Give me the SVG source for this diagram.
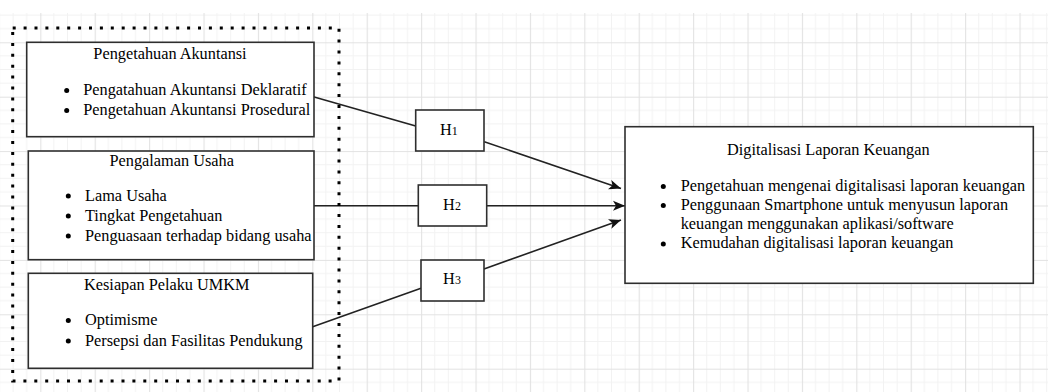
<svg xmlns="http://www.w3.org/2000/svg" width="1048" height="392" viewBox="0 0 1048 392">
  <defs>
    <pattern id="grid" patternUnits="userSpaceOnUse" x="40.3" y="42.3" width="54.4" height="54.4">
      <g stroke="#f2f2f2" stroke-width="1" fill="none">
        <line x1="13.6" y1="0" x2="13.6" y2="54.4"/>
        <line x1="27.2" y1="0" x2="27.2" y2="54.4"/>
        <line x1="40.8" y1="0" x2="40.8" y2="54.4"/>
        <line x1="0" y1="13.6" x2="54.4" y2="13.6"/>
        <line x1="0" y1="27.2" x2="54.4" y2="27.2"/>
        <line x1="0" y1="40.8" x2="54.4" y2="40.8"/>
      </g>
      <g stroke="#e2e2e2" stroke-width="1.2" fill="none">
        <line x1="0.5" y1="0" x2="0.5" y2="54.4"/>
        <line x1="0" y1="0.5" x2="54.4" y2="0.5"/>
      </g>
    </pattern>
    <marker id="arrow" markerUnits="userSpaceOnUse" markerWidth="14" markerHeight="12" refX="13" refY="6" orient="auto">
      <path d="M1,1 L13,6 L1,11 L4,6 Z" fill="#111"/>
    </marker>
  </defs>
  <style>
    .box { fill: #ffffff; stroke: #2e2e2e; stroke-width: 1.6; }
    .t { font-family: "Liberation Serif", "Times New Roman", serif; font-size: 16.3px; fill: #000; }
    .c { text-anchor: middle; }
    .dot { fill: #000; }
    .edge { stroke: #222; stroke-width: 1.6; fill: none; }
  </style>
  <rect x="0" y="0" width="1048" height="392" fill="#ffffff"/>
  <rect x="0" y="13" width="1048" height="379" fill="url(#grid)"/>

  <g id="connectors">
    <line class="edge" x1="313.3" y1="96.7" x2="415.7" y2="126"/>
    <line class="edge" x1="484.3" y1="141.7" x2="621" y2="188.5" marker-end="url(#arrow)"/>
    <line class="edge" x1="314" y1="205.7" x2="418.3" y2="205.7"/>
    <line class="edge" x1="486.7" y1="205.7" x2="625" y2="205.7" marker-end="url(#arrow)"/>
    <line class="edge" x1="312.7" y1="326.7" x2="421" y2="288.3"/>
    <line class="edge" x1="484" y1="269" x2="621" y2="220" marker-end="url(#arrow)"/>
  </g>

  <g id="group-border">
    <rect x="12.7" y="28" width="326.3" height="353" fill="none" stroke="#000" stroke-width="3" stroke-dasharray="3 7.9"/>
  </g>

  <g id="pengetahuan-akuntansi">
    <rect class="box" x="26.7" y="42.3" width="287.3" height="94.4"/>
    <text class="t c" x="170" y="59">Pengetahuan Akuntansi</text>
    <circle class="dot" cx="66.7" cy="90.5" r="2.5"/>
    <circle class="dot" cx="66.7" cy="110.5" r="2.5"/>
    <text class="t" x="83.3" y="95">Pengatahuan Akuntansi Deklaratif</text>
    <text class="t" x="83.3" y="115">Pengetahuan Akuntansi Prosedural</text>
  </g>

  <g id="pengalaman-usaha">
    <rect class="box" x="28.3" y="151" width="285.7" height="108.7"/>
    <text class="t c" x="171.7" y="166">Pengalaman Usaha</text>
    <circle class="dot" cx="68.3" cy="196" r="2.5"/>
    <circle class="dot" cx="68.3" cy="216" r="2.5"/>
    <circle class="dot" cx="68.3" cy="236" r="2.5"/>
    <text class="t" x="85" y="200.5">Lama Usaha</text>
    <text class="t" x="85" y="220.5">Tingkat Pengetahuan</text>
    <text class="t" x="85" y="240.5">Penguasaan terhadap bidang usaha</text>
  </g>

  <g id="kesiapan-umkm">
    <rect class="box" x="28.3" y="273.3" width="284.4" height="95"/>
    <text class="t c" x="166.8" y="290">Kesiapan Pelaku UMKM</text>
    <circle class="dot" cx="68.3" cy="320.5" r="2.5"/>
    <circle class="dot" cx="68.3" cy="341" r="2.5"/>
    <text class="t" x="85" y="325">Optimisme</text>
    <text class="t" x="85" y="345.5">Persepsi dan Fasilitas Pendukung</text>
  </g>

  <g id="h1">
    <rect class="box" x="415.7" y="110" width="68.3" height="41"/>
    <text class="t c" x="448.8" y="135">H<tspan font-size="12">1</tspan></text>
  </g>
  <g id="h2">
    <rect class="box" x="418.3" y="185" width="68.4" height="41"/>
    <text class="t c" x="452" y="210">H<tspan font-size="12">2</tspan></text>
  </g>
  <g id="h3">
    <rect class="box" x="421" y="260" width="63" height="41"/>
    <text class="t c" x="452" y="284.3">H<tspan font-size="12">3</tspan></text>
  </g>

  <g id="digitalisasi-laporan-keuangan">
    <rect class="box" x="625" y="126.7" width="408.3" height="156.6" stroke="#444" stroke-width="2"/>
    <text class="t c" x="828.3" y="155">Digitalisasi Laporan Keuangan</text>
    <circle class="dot" cx="663.3" cy="186.5" r="2.5"/>
    <circle class="dot" cx="663.3" cy="205.5" r="2.5"/>
    <circle class="dot" cx="663.3" cy="244" r="2.5"/>
    <text class="t" x="680.7" y="191">Pengetahuan mengenai digitalisasi laporan keuangan</text>
    <text class="t" x="680.7" y="210">Penggunaan Smartphone untuk menyusun laporan</text>
    <text class="t" x="680.7" y="229.3">keuangan menggunakan aplikasi/software</text>
    <text class="t" x="680.7" y="248.3">Kemudahan digitalisasi laporan keuangan</text>
  </g>
</svg>
